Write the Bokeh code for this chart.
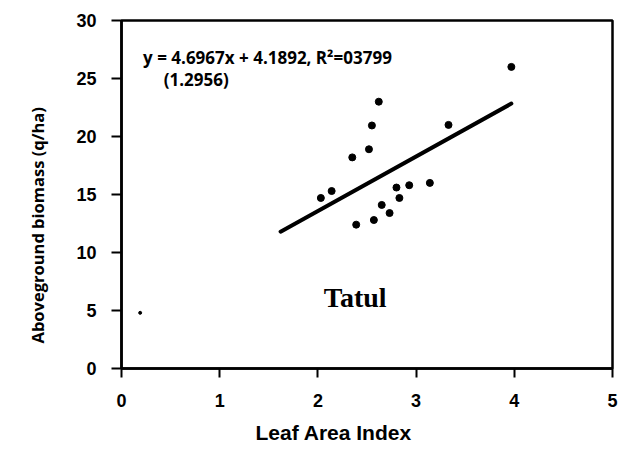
from bokeh.plotting import figure
from bokeh.models import Label, Range1d, FixedTicker, ColumnDataSource, Title
from bokeh.embed import file_html
from bokeh.resources import INLINE

# Data
lai = [2.03, 2.14, 2.35, 2.39, 2.52, 2.55, 2.57, 2.62, 2.65, 2.73, 2.80, 2.83, 2.93, 3.14, 3.33, 3.97]
biomass = [14.7, 15.3, 18.2, 12.4, 18.9, 20.95, 12.8, 23.0, 14.1, 13.4, 15.6, 14.7, 15.8, 16.0, 21.0, 26.0]
stray_x = [0.19]
stray_y = [4.8]
slope = 4.6967
intercept = 4.1892
fit_x = [1.62, 3.97]
x_ticks = [0, 1, 2, 3, 4, 5]
y_ticks = [0, 5, 10, 15, 20, 25, 30]

fit_y = [slope * v + intercept for v in fit_x]

p = figure(width=640, height=457, output_backend="svg", toolbar_location=None,
           x_range=Range1d(0, 5), y_range=Range1d(0, 30),
           min_border_left=121, min_border_right=28, min_border_top=20, min_border_bottom=89)
p.grid.visible = False
p.background_fill_color = "white"
p.border_fill_color = "white"
p.outline_line_color = "black"
p.outline_line_width = 2.5
p.outline_line_alpha = 1.0

for ax in (p.xaxis[0], p.yaxis[0]):
    ax.axis_line_width = 2.5
    ax.axis_line_color = "black"
    ax.major_tick_line_width = 2
    ax.major_tick_line_color = "black"
    ax.major_tick_in = 0
    ax.minor_tick_line_color = None
    ax.major_label_text_font = "Liberation Sans"
    ax.major_label_text_font_style = "bold"
    ax.major_label_text_font_size = "18px"
    ax.major_label_text_color = "black"

p.xaxis.ticker = FixedTicker(ticks=x_ticks)
p.yaxis.ticker = FixedTicker(ticks=y_ticks)
p.xaxis.major_tick_out = 9
p.yaxis.major_tick_out = 10
p.yaxis.major_label_standoff = 15
p.xaxis.major_label_standoff = 16

# axis titles as side titles so they can be offset like in the reference
p.add_layout(Title(text="Leaf Area Index", align="left", offset=134, standoff=19,
                   text_font="Liberation Sans", text_font_style="bold", text_font_size="21px",
                   text_color="black"), "below")
p.add_layout(Title(text="Aboveground biomass (q/ha)", align="left", offset=25, standoff=46,
                   vertical_align="top",
                   text_font="Open Sans", text_font_style="bold", text_font_size="16.5px",
                   text_color="black"), "left")

src = ColumnDataSource(dict(x=lai, y=biomass))
p.scatter("x", "y", source=src, size=7, color="black")
p.scatter(stray_x, stray_y, size=3, color="black")
p.line(fit_x, fit_y, line_width=4, color="black", line_cap="round")

p.add_layout(Label(x=0.22, y=26.8, text="y = 4.6967x + 4.1892, R\u00b2=03799",
                   text_font="Open Sans", text_font_style="bold", text_font_size="17px",
                   text_baseline="middle", text_color="black"))
p.add_layout(Label(x=0.43, y=24.9, text="(1.2956)",
                   text_font="Open Sans", text_font_style="bold", text_font_size="17px",
                   text_baseline="middle", text_color="black"))
p.add_layout(Label(x=2.38, y=6.1, text="Tatul",
                   text_font="Liberation Serif", text_font_style="bold", text_font_size="28px",
                   text_align="center", text_baseline="alphabetic", text_color="black"))

open("out.html", "w").write(file_html(p, INLINE))
